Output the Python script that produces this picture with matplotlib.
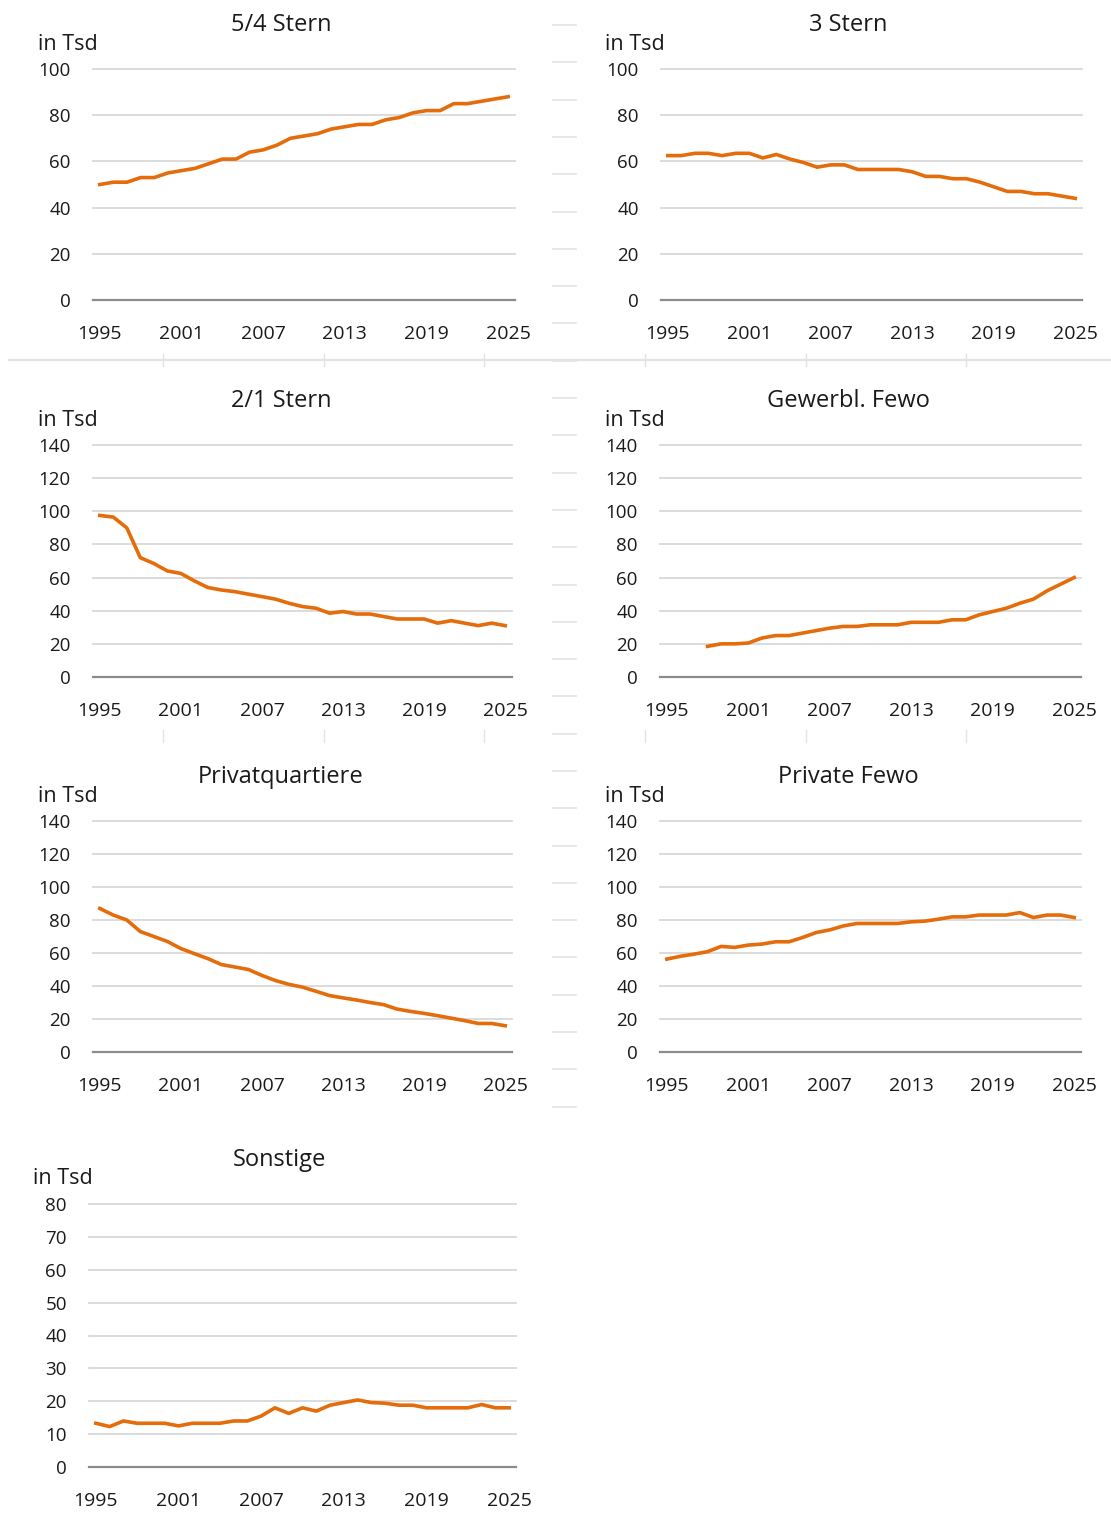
import matplotlib
matplotlib.use("Agg")
import matplotlib.pyplot as plt
import numpy as np

plt.rcParams['font.family'] = ['Open Sans', 'DejaVu Sans']

years = list(range(1995, 2026))
tick_years = [1995, 2001, 2007, 2013, 2019, 2025]

stern54 = [50, 51, 51, 53, 53, 55, 56, 57, 59, 61, 61, 64, 65, 67, 70, 71,
           72, 74, 75, 76, 76, 78, 79, 81, 82, 82, 85, 85, 86, 87, 88]
stern3 = [62.5, 62.5, 63.5, 63.5, 62.5, 63.5, 63.5, 61.5, 63, 61, 59.5, 57.5,
          58.5, 58.5, 56.5, 56.5, 56.5, 56.5, 55.5, 53.5, 53.5, 52.5, 52.5,
          51, 49, 47, 47, 46, 46, 45, 44]
stern21 = [97.5, 96.5, 90, 72, 68.5, 64, 62.5, 58, 54, 52.5, 51.5, 50, 48.5,
           47, 44.5, 42.5, 41.5, 38.5, 39.5, 38, 38, 36.5, 35, 35, 35, 32.5,
           34, 32.5, 31, 32.5, 31]
# Gewerbl. Fewo starts in 1998
gewerbl_years = list(range(1998, 2026))
gewerbl = [18.5, 20, 20, 20.5, 23.5, 25, 25, 26.5, 28, 29.5, 30.5, 30.5, 31.5,
           31.5, 31.5, 33, 33, 33, 34.5, 34.5, 37.5, 39.5, 41.5, 44.5, 47, 52,
           56, 60]
privatq = [87, 83, 80, 73, 70, 67, 62.7, 59.6, 56.6, 53, 51.5, 50, 46.4, 43.3,
           41, 39.3, 36.8, 34.2, 32.8, 31.5, 30, 28.7, 26, 24.6, 23.4, 22,
           20.5, 19, 17.3, 17.3, 15.9]
private_fewo = [56.3, 58, 59.3, 60.8, 64, 63.4, 64.8, 65.4, 66.8, 66.8, 69.4,
                72.4, 74, 76.4, 77.9, 77.9, 77.9, 77.9, 78.9, 79.3, 80.5, 81.9,
                81.9, 83, 83, 83, 84.5, 81.5, 83, 83, 81.5]
sonstige = [13.3, 12.3, 14, 13.3, 13.3, 13.3, 12.5, 13.3, 13.3, 13.3, 14, 14,
            15.5, 18, 16.3, 18, 17, 18.8, 19.6, 20.4, 19.6, 19.4, 18.8, 18.8,
            18, 18, 18, 18, 19, 18, 18]

W, H = 1111, 1515
fig = plt.figure(figsize=(W / 100, H / 100), dpi=100)

orange = '#E46C0A'
grid_col = '#D9D9D9'
txt_col = '#1A1A1A'


def fx(x):
    return x / W


def fy(y):
    return 1 - y / H


def panel(x0, x1, ytop, ybot, xs, ys, ymax, ystep, title, title_x, unit_x):
    ax = fig.add_axes([fx(x0), fy(ybot), (x1 - x0) / W, (ybot - ytop) / H])
    ax.plot(xs, ys, color=orange, lw=2.6, solid_joinstyle='round', zorder=3)
    ax.set_xlim(1994.5, 2025.5)
    ax.set_ylim(0, ymax)
    yt = np.arange(0, ymax + 1, ystep)
    ax.set_yticks(yt)
    ax.set_xticks(tick_years)
    for v in yt[1:]:
        ax.axhline(v, color=grid_col, lw=1.3, zorder=1, clip_on=False)
    ax.axhline(0, color='#8C8C8C', lw=1.6, zorder=2, clip_on=False)
    for s in ax.spines.values():
        s.set_visible(False)
    ax.tick_params(axis='y', length=0, pad=16, labelsize=13.5, labelcolor=txt_col)
    ax.tick_params(axis='x', length=0, pad=18, labelsize=14, labelcolor=txt_col)
    for lab in ax.get_xticklabels() + ax.get_yticklabels():
        lab.set_fontweight('medium')
    fig.text(fx(title_x), fy(ytop - 44), title, ha='center', va='center',
             fontsize=17, fontweight='medium', color=txt_col)
    fig.text(fx(unit_x), fy(ytop - 25), 'in Tsd', ha='left', va='center',
             fontsize=15.5, fontweight='medium', color=txt_col)
    return ax


panel(93, 515, 69, 300, years, stern54, 100, 20, '5/4 Stern', 281, 38)
panel(661, 1082, 69, 300, years, stern3, 100, 20, '3 Stern', 848, 605)
panel(93, 512, 445, 677, years, stern21, 140, 20, '2/1 Stern', 281, 38)
panel(660, 1081, 445, 677, gewerbl_years, gewerbl, 140, 20, 'Gewerbl. Fewo', 848, 605)
panel(93, 512, 821, 1052, years, privatq, 140, 20, 'Privatquartiere', 281, 38)
panel(660, 1081, 821, 1052, years, private_fewo, 140, 20, 'Private Fewo', 848, 605)
panel(89, 516, 1204, 1467, years, sonstige, 80, 10, 'Sonstige', 280, 33)

# faint leftover separators of the original layout
sep = '#E3E3E3'
for y in np.arange(25, 1110, 37.3):
    fig.add_artist(plt.Line2D([fx(553), fx(576)], [fy(y), fy(y)], color=sep, lw=1.2))
fig.add_artist(plt.Line2D([fx(9), fx(1111)], [fy(360), fy(360)], color=sep, lw=1.6))
for x in [163, 324, 484, 645, 806, 966]:
    for yc in [360, 736]:
        fig.add_artist(plt.Line2D([fx(x), fx(x)], [fy(yc - 6), fy(yc + 6)], color=sep, lw=1.0))

fig.savefig('out.png', dpi=100, facecolor='white')
